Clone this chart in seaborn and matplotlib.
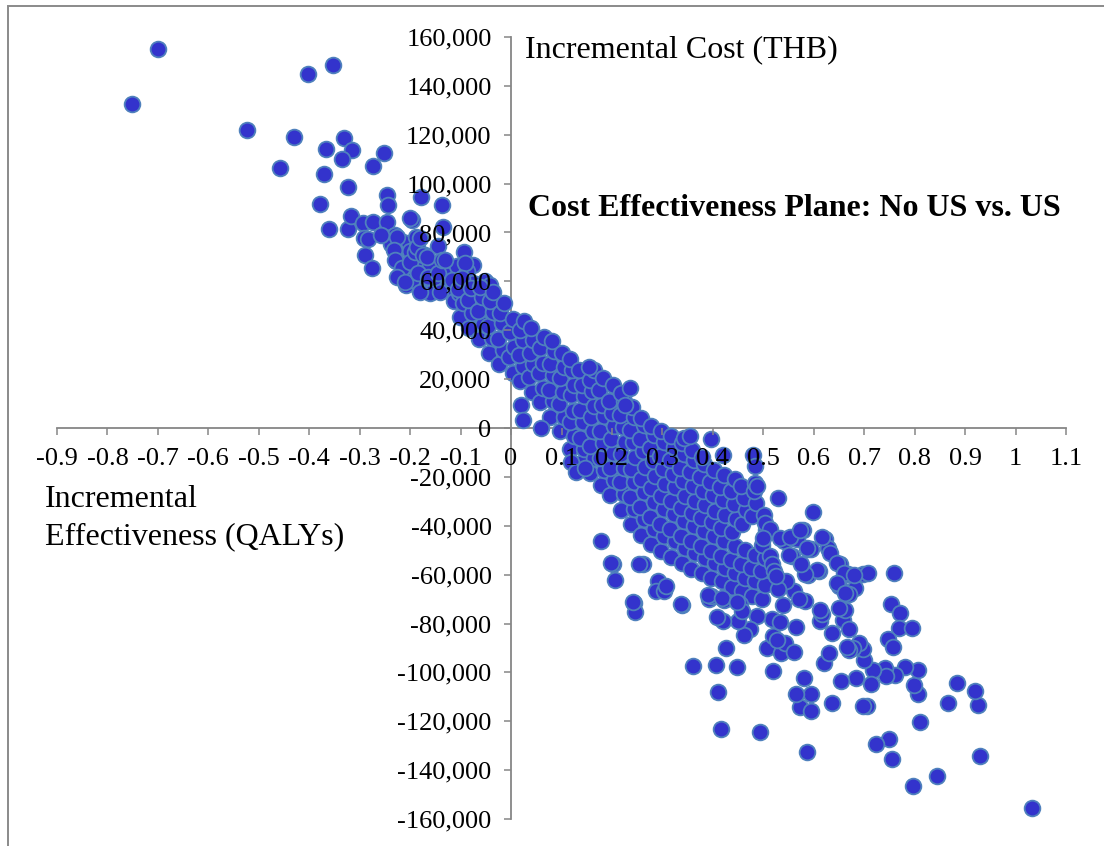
import matplotlib
matplotlib.use("Agg")
import matplotlib.pyplot as plt
import pandas as pd
import seaborn as sns
from matplotlib.patches import Rectangle
from matplotlib.ticker import FuncFormatter

sns.set_style("white")
plt.rcParams["font.family"] = ["Liberation Serif", "DejaVu Serif"]
plt.rcParams["text.color"] = "black"

# Incremental QALYs / incremental cost (THB) for the probabilistic simulations
# Upper-left group: QALY losses with higher cost
ul_qaly = [-0.700, -0.751, -0.403, -0.352, -0.523, -0.430, -0.457, -0.366, -0.331, -0.316,
           -0.335, -0.370, -0.273, -0.251, -0.323, -0.379, -0.245, -0.243, -0.178, -0.137,
           -0.360, -0.324, -0.318, -0.294, -0.273, -0.291, -0.284, -0.289, -0.275, -0.245,
           -0.231, -0.214, -0.231, -0.197, -0.188, -0.135, -0.093, -0.075, -0.170, -0.132,
           -0.178, -0.142, -0.181, -0.220, -0.209, -0.228, -0.215, -0.200, -0.185, -0.160,
           -0.152, -0.125, -0.118, -0.108, -0.087, -0.161, -0.238, -0.258, -0.196, -0.145,
           -0.114, -0.052,
           -0.227, -0.200, -0.233, -0.230, -0.217, -0.227, -0.210, -0.200, -0.190, -0.187,
           -0.180, -0.174, -0.167, -0.184, -0.180, -0.164, -0.144, -0.141, -0.137, -0.131,
           -0.091, -0.104, -0.118, -0.104, -0.075, -0.068, -0.042, -0.068, -0.058, -0.094,
           -0.081]
ul_cost = [155000, 132500, 144800, 148500, 122000, 119000, 106500, 114300, 118800, 113700,
           110000, 103800, 107300, 112700, 98800, 91600, 95300, 91200, 94400, 91200,
           81600, 81600, 86800, 84000, 84400, 77600, 77300, 70800, 65300, 84400,
           79000, 76200, 72800, 85100, 78300, 82400, 72100, 66700, 70800, 68700,
           63300, 58500, 56500, 61900, 58500, 68300, 66200, 72300, 69000, 66800,
           61200, 62700, 56400, 66300, 64100, 55100, 75200, 78800, 60700, 74600,
           51900, 60200,
           78300, 85800, 72800, 68700, 65300, 61900, 59900, 68100, 72100, 74200,
           77600, 70800, 70100, 63300, 55800, 61900, 63300, 55800, 68700, 68700,
           67400, 60600, 60600, 55100, 59200, 56500, 58500, 51000, 49000, 44900,
           46200]

# Central band of simulations
core_qaly = [-0.102, -0.095, -0.106, -0.097,
             -0.083, -0.077, -0.086, -0.079,
             -0.063, -0.056, -0.065, -0.058, -0.061,
             -0.044, -0.037, -0.045, -0.036, -0.042, -0.035,
             -0.023, -0.016, -0.025, -0.017, -0.022, -0.014,
             0.003, -0.004, 0.005, -0.002, 0.004,
             0.017, 0.024, 0.016, 0.023, 0.018, 0.026,
             0.042, 0.036, 0.044, 0.037, 0.043, 0.039,
             0.057, 0.064, 0.056, 0.063, 0.058, 0.065,
             0.078, 0.084, 0.076, 0.083, 0.077, 0.085, 0.081,
             0.097, 0.104, 0.096, 0.103, 0.098, 0.105, 0.101,
             0.117, 0.124, 0.116, 0.123, 0.118, 0.125, 0.120, 0.117,
             0.138, 0.144, 0.136, 0.143, 0.137, 0.145, 0.141, 0.135,
             0.157, 0.164, 0.156, 0.163, 0.158, 0.165, 0.161, 0.156, 0.164,
             0.178, 0.184, 0.176, 0.183, 0.177, 0.185, 0.181, 0.175, 0.183,
             0.197, 0.204, 0.196, 0.203, 0.198, 0.205, 0.201, 0.195, 0.203,
             0.218, 0.224, 0.216, 0.223, 0.217, 0.225, 0.221, 0.215, 0.223, 0.218,
             0.237, 0.244, 0.236, 0.243, 0.238, 0.245, 0.241, 0.235, 0.243, 0.239,
             0.258, 0.264, 0.256, 0.263, 0.257, 0.265, 0.261, 0.255, 0.263, 0.257,
             0.277, 0.284, 0.276, 0.283, 0.278, 0.285, 0.281, 0.275, 0.283, 0.278,
             0.298, 0.304, 0.296, 0.303, 0.297, 0.305, 0.301, 0.295, 0.303, 0.297,
             0.317, 0.324, 0.316, 0.323, 0.318, 0.325, 0.321, 0.315, 0.323, 0.318,
             0.338, 0.344, 0.336, 0.343, 0.337, 0.345, 0.341, 0.335, 0.343, 0.338,
             0.357, 0.364, 0.356, 0.363, 0.358, 0.365, 0.361, 0.355, 0.363, 0.359,
             0.378, 0.384, 0.376, 0.383, 0.377, 0.385, 0.381, 0.375, 0.383, 0.379,
             0.397, 0.404, 0.396, 0.403, 0.398, 0.405, 0.401, 0.395, 0.403,
             0.418, 0.424, 0.416, 0.423, 0.417, 0.425, 0.421, 0.415, 0.423,
             0.437, 0.444, 0.436, 0.443, 0.438, 0.445, 0.441, 0.435, 0.443,
             0.458, 0.464, 0.456, 0.463, 0.457, 0.465, 0.461, 0.455,
             0.477, 0.484, 0.476, 0.483, 0.478, 0.485, 0.481,
             0.498, 0.504, 0.496, 0.503, 0.497, 0.505, 0.501]
core_cost = [45500, 51200, 56800, 61300,
             40800, 46900, 52300, 57100,
             36400, 42700, 47800, 53600, 57900,
             30600, 36900, 41800, 47400, 52100, 55800,
             26100, 31800, 36600, 42900, 47200, 51300,
             22700, 28900, 33100, 39400, 44600,
             19200, 25400, 29700, 35900, 40200, 43800,
             14600, 20900, 26300, 30600, 36200, 40900,
             10800, 16200, 22400, 26800, 32900, 37300,
             4700, 10900, 15600, 21800, 26200, 31400, 35700,
             -1200, 4300, 9800, 14600, 20400, 25100, 30800,
             -8700, -3200, 2400, 7100, 13300, 17800, 23900, 28300,
             -14200, -8600, -3900, 2300, 7200, 12900, 17600, 23800,
             -18300, -12100, -7400, -1200, 4400, 9100, 15300, 19700, 23900,
             -23400, -17200, -12300, -6100, -1400, 4800, 9600, 15400, 20300,
             -27300, -21100, -16400, -10200, -4600, 700, 6300, 11200, 17400,
             -33400, -27100, -22300, -16200, -10700, -5800, 400, 5200, 10900, 14300,
             -39300, -33200, -28400, -22100, -16600, -11900, -5700, -800, 4700, 8400,
             -43600, -37100, -32400, -26200, -20700, -15800, -9600, -4300, 1200, 4200,
             -47400, -41200, -36300, -30100, -24600, -19800, -13700, -8200, -2700, 800,
             -50300, -44100, -39400, -33200, -27700, -22900, -16600, -11300, -5800, -1100,
             -52600, -46200, -41300, -35100, -29800, -24300, -18700, -13100, -7600, -3300,
             -55400, -49200, -44300, -38100, -32600, -27800, -21600, -16300, -10800, -6200,
             -57600, -51300, -46400, -40200, -34700, -29900, -23700, -18200, -12900, -9100,
             -59300, -53100, -48200, -42300, -36800, -31600, -25800, -20100, -14700, -11800,
             -61400, -55200, -50300, -44100, -38600, -33800, -27600, -22200, -17300,
             -62700, -57400, -52200, -46300, -40900, -35700, -29400, -24100, -19200,
             -65200, -59300, -54100, -48200, -42700, -37400, -31300, -25900, -20800,
             -66900, -61200, -55600, -50100, -39300, -33400, -28700, -23600,
             -68700, -62800, -57300, -51900, -36200, -30800, -25600,
             -69800, -64300, -58600, -53400, -47900, -41700, -35600]

# Lower-right group and scattered simulations around the band
lr_qaly = [1.033, 0.796, 0.844, 0.929, 0.756, 0.750, 0.724, 0.587, 0.493, 0.417,
           0.810, 0.926, 0.920, 0.883, 0.867, 0.807, 0.798, 0.807, 0.781, 0.761,
           0.741, 0.743, 0.717, 0.714, 0.699, 0.697, 0.689, 0.678, 0.670, 0.666,
           0.683, 0.655, 0.705, 0.697, 0.636, 0.621, 0.631, 0.636, 0.657, 0.670,
           0.661, 0.650, 0.613, 0.617, 0.612, 0.594, 0.573, 0.594, 0.564, 0.580,
           0.519, 0.447, 0.407, 0.360, 0.411, 0.427, 0.508, 0.535, 0.543, 0.560,
           0.564, 0.520, 0.527, 0.518, 0.534, 0.487, 0.474, 0.461, 0.449, 0.421,
           0.409, 0.392, 0.396, 0.423, 0.453, 0.457, 0.339, 0.244, 0.246, 0.292,
           0.287, 0.303, 0.308, 0.202, 0.206, 0.261, 0.179, 0.529, 0.599, 0.396,
           0.343, 0.354, 0.759, 0.754, 0.771, 0.768, 0.794, 0.747, 0.758, 0.697,
           0.707, 0.668, 0.682, 0.653, 0.651, 0.670, 0.622, 0.628, 0.632, 0.589,
           0.595, 0.589, 0.610, 0.579, 0.560, 0.567, 0.541, 0.556, 0.560, 0.583,
           0.571, 0.545, 0.514, 0.518, 0.522, 0.503, 0.514, 0.499, 0.484, 0.487,
           0.420, 0.479, 0.484, 0.020, 0.023, 0.059, 0.119, 0.129, 0.146, 0.155,
           0.235, 0.225, 0.533, 0.553, 0.573, 0.550, 0.586, 0.616, 0.646, 0.659,
           0.679, 0.646, 0.662, 0.606, 0.583, 0.198, 0.254, 0.241, 0.336, 0.391,
           0.418, 0.447, 0.530, 0.540, 0.525, 0.575]
lr_cost = [-155500, -146400, -142600, -134400, -135500, -127300, -129400, -132500, -124400, -123300,
           -120300, -113300, -107600, -104200, -112500, -109000, -105100, -99200, -97700, -101100,
           -98100, -101500, -99200, -104900, -95100, -90600, -87800, -89900, -91000, -89600,
           -102200, -103500, -113700, -113900, -112400, -96000, -91900, -83800, -78700, -82400,
           -74600, -73500, -79000, -76300, -74600, -109000, -114100, -115800, -109000, -102200,
           -99400, -97700, -97000, -97400, -108000, -90200, -89900, -92200, -87800, -91700,
           -81400, -85100, -86700, -78300, -79400, -77000, -82400, -84700, -79000, -79000,
           -77400, -70100, -68800, -70400, -72200, -74900, -72500, -71500, -75200, -62700,
           -66500, -66500, -64700, -55600, -62000, -55600, -46300, -28600, -34500, -4400,
           -4100, -3400, -59200, -72200, -75600, -81700, -81700, -86200, -89600, -59900,
           -59200, -59700, -65400, -55600, -64700, -68100, -45600, -49000, -51000, -49700,
           -49700, -60200, -58600, -41800, -44900, -45600, -46300, -52400, -66700, -70800,
           -70100, -62700, -52400, -55800, -58600, -38800, -41500, -44900, -22500, -23800,
           -10900, -10900, -15700, 9500, 3400, 0, -13800, -17900, -16500, 24800,
           16400, 9500, -45000, -44500, -41700, -52000, -49200, -44500, -55400, -59500,
           -60200, -63600, -67600, -58100, -59700, -55400, -55600, -71100, -72000, -68300,
           -69700, -71100, -66000, -72500, -60500, -55800]

x_ticks = [-0.9, -0.8, -0.7, -0.6, -0.5, -0.4, -0.3, -0.2, -0.1, 0.0,
           0.1, 0.2, 0.3, 0.4, 0.5, 0.6, 0.7, 0.8, 0.9, 1.0, 1.1]
y_ticks = [-160000, -140000, -120000, -100000, -80000, -60000, -40000, -20000, 0,
           20000, 40000, 60000, 80000, 100000, 120000, 140000, 160000]

df = pd.DataFrame({
    "qaly": ul_qaly + core_qaly + lr_qaly,
    "cost": ul_cost + core_cost + lr_cost,
})

W, H = 1104, 846
fig = plt.figure(figsize=(W / 100, H / 100), dpi=100)
fig.patch.set_facecolor("white")

x0, x1, y0, y1 = 57, 1066, 37, 819
ax = fig.add_axes([x0 / W, 1 - y1 / H, (x1 - x0) / W, (y1 - y0) / H])
ax.patch.set_alpha(0)

sns.scatterplot(data=df, x="qaly", y="cost", ax=ax, s=128, color="#3333CC",
                edgecolor="#4F81BD", linewidth=1.3, legend=False, zorder=2)

ax.set_xlim(-0.9, 1.1)
ax.set_ylim(-160000, 160000)
ax.set_xticks(x_ticks)
ax.set_yticks(y_ticks)


def fmt_x(v, pos):
    r = round(v, 1)
    if abs(r) < 1e-9:
        return "0"
    return f"{r:g}"


def fmt_y(v, pos):
    return f"{int(round(v)):,}"


ax.xaxis.set_major_formatter(FuncFormatter(fmt_x))
ax.yaxis.set_major_formatter(FuncFormatter(fmt_y))
ax.set_xlabel("")
ax.set_ylabel("")

axis_grey = "#868686"
for side in ("top", "right"):
    ax.spines[side].set_visible(False)
ax.spines["left"].set_position(("data", 0))
ax.spines["bottom"].set_position(("data", 0))
for side in ("left", "bottom"):
    ax.spines[side].set_color(axis_grey)
    ax.spines[side].set_linewidth(1.3)
    ax.spines[side].set_zorder(1)

ax.tick_params(axis="x", bottom=True, direction="out", length=5, width=1.1,
               color=axis_grey, labelsize=19, pad=9.5, labelcolor="black")
ax.tick_params(axis="y", left=True, direction="out", length=5, width=1.1,
               color=axis_grey, labelsize=19, pad=9, labelcolor="black")
ax.xaxis.set_zorder(3)
ax.yaxis.set_zorder(3)

fig.text(525 / W, 1 - 50 / H, "Incremental Cost (THB)", fontsize=23,
         ha="left", va="center")
fig.text(528 / W, 1 - 208 / H, "Cost Effectiveness Plane: No US vs. US",
         fontsize=23, fontweight="bold", ha="left", va="center")
fig.text(45 / W, 1 - 518 / H, "Incremental\nEffectiveness (QALYs)", fontsize=23,
         ha="left", va="center", linespacing=1.35)

# Chart-area border
fig.add_artist(Rectangle((7.5 / W, -0.5), 2.0, 1.5 - 6.5 / H,
                         transform=fig.transFigure, fill=False,
                         edgecolor="#8a8a8a", linewidth=1.4, clip_on=False))

fig.savefig("out.png", dpi=100)
